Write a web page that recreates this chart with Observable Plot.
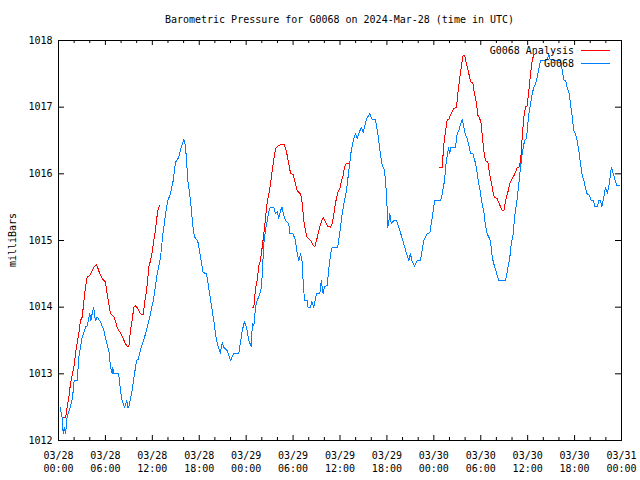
<!DOCTYPE html>
<html>
<head>
<meta charset="utf-8">
<script src="https://cdn.jsdelivr.net/npm/d3@7"></script>
<script src="https://cdn.jsdelivr.net/npm/@observablehq/plot@0.6"></script>
<style>
  html, body { margin: 0; padding: 0; background: #fff; }
  svg { display: block; }
</style>
</head>
<body>
<div id="chart"></div>
<script>
// ---- Data (hours since 2024-03-28 00:00 UTC, pressure in mbar) ----
const chartTitle = "Barometric Pressure for G0068 on 2024-Mar-28 (time in UTC)";
const yLabel = "milliBars";
const seriesNames = ["G0068 Analysis", "G0068"];
const seriesColors = ["#ff0000", "#0080ff"];

const obsHours = [0.2,0.45,0.6,0.75,0.9,1.1,1.5,1.8,2.0,2.4,2.6,3.0,3.45,3.67,4.0,4.15,4.3,4.5,4.65,4.73,4.95,5.37,5.8,6.14,6.44,6.65,6.86,6.95,7.05,7.7,7.93,8.14,8.44,8.74,8.85,9.0,9.42,9.72,9.98,10.2,10.57,10.9,11.34,11.77,12.2,12.62,13.05,13.35,13.7,13.98,14.32,14.67,14.96,15.39,15.7,16.03,16.24,16.54,16.88,17.2,17.4,17.8,18.16,18.5,18.93,19.2,19.52,19.86,20.2,20.5,20.7,20.94,21.1,21.57,22.0,22.4,23.06,23.5,23.8,24.13,24.34,24.64,24.8,24.98,25.2,25.41,25.75,25.96,26.26,26.47,26.69,26.9,27.1,27.54,27.75,28.0,28.17,28.4,28.6,28.8,29.03,29.45,29.58,30.0,30.3,30.53,30.73,30.96,31.17,31.3,31.47,31.8,31.9,32.23,32.4,32.65,33.0,33.42,33.6,33.85,34.0,34.36,34.57,34.87,35.0,35.7,36.07,36.28,36.58,36.83,37.13,37.44,37.7,37.98,38.2,38.4,38.71,38.97,39.13,39.39,39.81,40.12,40.54,40.84,41.1,41.4,41.7,41.95,42.12,42.38,42.55,42.89,43.2,43.52,43.83,44.16,44.5,44.8,45.0,45.2,45.53,45.87,46.3,46.7,47.15,47.5,47.8,48.1,48.86,49.07,49.37,49.6,49.9,50.0,50.2,50.77,50.98,51.2,51.41,51.63,51.84,52.05,52.27,52.48,52.7,53.0,53.35,53.55,53.76,53.98,54.2,54.4,54.6,54.83,55.16,55.34,55.47,55.67,55.9,56.1,56.3,57.17,57.46,57.72,57.9,58.15,58.32,58.66,58.87,59.09,59.3,59.6,59.86,60.02,60.15,60.37,60.58,60.79,61.0,61.22,61.43,61.65,62.5,62.7,62.9,64.2,64.42,64.63,64.85,65.05,65.27,65.48,65.7,65.9,66.1,66.33,66.54,66.76,66.97,67.18,67.4,67.6,67.9,68.13,68.4,68.6,68.9,69.1,69.3,69.5,69.7,69.96,70.2,70.5,70.7,70.9,71.2,71.4,71.7];
const obsValues = [1012.5,1012.35,1012.1,1012.2,1012.1,1012.35,1012.5,1012.65,1012.9,1012.9,1013.25,1013.53,1013.7,1013.72,1013.9,1013.8,1013.9,1014.0,1013.85,1013.8,1013.85,1013.78,1013.65,1013.47,1013.35,1013.1,1013.0,1013.1,1013.0,1013.0,1012.75,1012.6,1012.5,1012.6,1012.5,1012.5,1012.75,1013.0,1013.2,1013.22,1013.4,1013.5,1013.7,1013.9,1014.15,1014.5,1014.75,1015.1,1015.4,1015.6,1015.7,1015.9,1016.17,1016.25,1016.4,1016.51,1016.42,1015.9,1015.6,1015.2,1015.05,1015.0,1014.75,1014.52,1014.5,1014.3,1014.05,1013.8,1013.5,1013.38,1013.31,1013.47,1013.4,1013.35,1013.2,1013.3,1013.31,1013.65,1013.79,1013.65,1013.5,1013.41,1013.75,1013.72,1014.0,1014.1,1014.2,1014.3,1014.95,1015.15,1015.3,1015.43,1015.5,1015.5,1015.4,1015.43,1015.33,1015.45,1015.5,1015.38,1015.3,1015.25,1015.1,1015.1,1015.0,1014.8,1014.7,1014.8,1014.68,1014.35,1014.1,1014.1,1014.0,1014.0,1014.08,1014.0,1014.2,1014.2,1014.4,1014.2,1014.3,1014.33,1014.58,1014.85,1014.9,1014.9,1015.2,1015.4,1015.6,1015.75,1016.05,1016.35,1016.5,1016.6,1016.53,1016.6,1016.7,1016.62,1016.7,1016.83,1016.9,1016.81,1016.81,1016.6,1016.35,1016.13,1016.05,1015.7,1015.2,1015.4,1015.25,1015.3,1015.3,1015.2,1015.08,1014.95,1014.8,1014.7,1014.8,1014.7,1014.61,1014.7,1014.7,1015.0,1015.1,1015.12,1015.35,1015.6,1015.6,1015.7,1015.9,1016.2,1016.4,1016.3,1016.4,1016.4,1016.6,1016.65,1016.75,1016.81,1016.7,1016.58,1016.53,1016.43,1016.3,1016.3,1016.15,1016.0,1015.85,1015.7,1015.53,1015.43,1015.22,1015.1,1015.02,1014.9,1014.75,1014.65,1014.56,1014.48,1014.4,1014.4,1014.58,1014.75,1014.95,1015.1,1015.35,1015.63,1015.85,1016.1,1016.3,1016.5,1016.53,1016.75,1016.9,1017.05,1017.2,1017.3,1017.35,1017.45,1017.58,1017.7,1017.71,1017.8,1017.71,1017.7,1017.55,1017.41,1017.4,1017.3,1017.22,1017.05,1016.85,1016.65,1016.6,1016.5,1016.35,1016.15,1015.98,1015.9,1015.78,1015.7,1015.68,1015.6,1015.6,1015.51,1015.51,1015.6,1015.6,1015.51,1015.63,1015.8,1015.7,1015.9,1016.1,1016.02,1015.9,1015.83,1015.82];

// Analysis series: three runs, separated by NaN gaps
const anaHours = [0.6,0.9,1.1,1.32,1.53,1.75,1.96,2.17,2.39,2.6,2.81,3.03,3.24,3.45,3.67,4.0,4.3,4.52,4.82,5.0,5.28,5.58,5.8,6.0,6.22,6.44,6.65,7.07,7.3,7.5,7.7,8.0,8.27,8.57,8.78,9.0,9.2,9.42,9.63,9.85,10.15,10.49,10.83,11.0,11.25,11.42,11.55,11.77,11.98,12.19,12.4,12.53,12.7,12.96,
  13.5,
  24.77,24.98,25.2,25.41,25.62,25.83,26.05,26.26,26.47,26.69,26.9,27.11,27.33,27.54,27.75,27.96,28.3,28.6,28.85,29.16,29.45,29.67,30.0,30.3,30.53,30.73,30.96,31.17,31.37,31.6,31.8,32.23,32.58,32.79,33.0,33.3,33.6,33.85,34.15,34.44,34.79,35.0,35.21,35.43,35.73,35.98,36.15,36.41,36.58,36.79,37.05,
  40.0,
  48.77,49.07,49.28,49.5,49.71,49.92,50.13,50.35,50.56,50.9,51.07,51.33,51.5,51.75,51.92,52.18,52.48,52.7,53.0,53.2,53.46,53.63,53.85,54.05,54.22,54.39,54.6,54.9,55.12,55.34,55.6,55.76,56.1,56.44,56.75,56.96,57.17,57.46,57.72,58.02,58.32,58.66,58.96,59.17,59.3,59.51,59.73,59.94,60.15,60.37,60.58,60.79,61.0];
const anaValues = [1012.34,1012.34,1012.5,1012.65,1012.85,1012.98,1013.1,1013.3,1013.47,1013.6,1013.8,1013.85,1014.08,1014.3,1014.45,1014.48,1014.55,1014.6,1014.64,1014.6,1014.5,1014.43,1014.4,1014.38,1014.2,1014.05,1013.9,1013.86,1013.78,1013.7,1013.65,1013.6,1013.53,1013.45,1013.41,1013.41,1013.65,1013.8,1014.0,1014.02,1013.98,1013.9,1013.89,1014.05,1014.25,1014.43,1014.6,1014.7,1014.82,1015.0,1015.15,1015.3,1015.45,1015.53,
  NaN,
  1013.99,1014.0,1014.28,1014.4,1014.63,1014.7,1014.9,1015.1,1015.33,1015.58,1015.7,1015.85,1016.05,1016.22,1016.37,1016.41,1016.43,1016.44,1016.44,1016.33,1016.15,1016.01,1015.99,1015.85,1015.75,1015.72,1015.7,1015.55,1015.3,1015.13,1015.05,1015.0,1014.93,1014.91,1015.0,1015.15,1015.28,1015.34,1015.28,1015.21,1015.2,1015.25,1015.4,1015.57,1015.72,1015.78,1015.88,1015.98,1016.1,1016.15,1016.15,
  NaN,
  1016.09,1016.1,1016.45,1016.65,1016.81,1016.82,1016.88,1016.93,1016.98,1017.0,1017.2,1017.45,1017.6,1017.78,1017.78,1017.65,1017.5,1017.38,1017.36,1017.2,1017.05,1016.88,1016.84,1016.75,1016.55,1016.35,1016.2,1016.18,1016.0,1015.88,1015.7,1015.65,1015.63,1015.53,1015.45,1015.45,1015.6,1015.72,1015.86,1015.93,1015.99,1016.09,1016.11,1016.3,1016.55,1016.85,1017.01,1017.02,1017.25,1017.5,1017.7,1017.79,1017.8];

const xTickHours = [0,6,12,18,24,30,36,42,48,54,60,66,72];
const xTickLabels = ["03/28\n00:00","03/28\n06:00","03/28\n12:00","03/28\n18:00","03/29\n00:00","03/29\n06:00","03/29\n12:00","03/29\n18:00","03/30\n00:00","03/30\n06:00","03/30\n12:00","03/30\n18:00","03/31\n00:00"];
const xMinorHours = [2,4,8,10,14,16,20,22,26,28,32,34,38,40,44,46,50,52,56,58,62,64,68,70];
const yTicks = [1012,1013,1014,1015,1016,1017,1018];

// ---- Build tables ----
const obs = obsHours.map((h, i) => ({h, v: obsValues[i]}));
const ana = anaHours.map((h, i) => ({h, v: anaValues[i]}));

const W = 640, H = 480, mL = 58, mR = 19, mT = 40, mB = 40;
const frameH = H - mT - mB, frameW = W - mL - mR;
const FONT = "'DejaVu Sans Mono', monospace";
const majT = 5, minT = 3, yT = 6;

const chart = Plot.plot({
  width: W, height: H,
  marginLeft: mL, marginRight: mR, marginTop: mT, marginBottom: mB,
  style: {fontFamily: FONT, fontSize: "10px", background: "#fff", color: "#000"},
  x: {domain: [0, 72], axis: null},
  y: {domain: [1012, 1018], axis: null},
  marks: [
    // inward ticks, bottom & top
    Plot.tickX(xTickHours, {x: d => d, insetTop: frameH - majT, stroke: "#000"}),
    Plot.tickX(xTickHours, {x: d => d, insetBottom: frameH - majT, stroke: "#000"}),
    Plot.tickX(xMinorHours, {x: d => d, insetTop: frameH - minT, stroke: "#000"}),
    Plot.tickX(xMinorHours, {x: d => d, insetBottom: frameH - minT, stroke: "#000"}),
    // inward ticks, left & right
    Plot.tickY(yTicks, {y: d => d, insetRight: frameW - yT, stroke: "#000"}),
    Plot.tickY(yTicks, {y: d => d, insetLeft: frameW - yT, stroke: "#000"}),
    // tick labels
    Plot.text(yTicks, {y: d => d, frameAnchor: "left", dx: -6, textAnchor: "end", text: d => String(d), fill: "#000"}),
    Plot.text(xTickHours, {x: d => d, frameAnchor: "bottom", lineAnchor: "top", dy: 10, lineHeight: 1.25, text: (d, i) => xTickLabels[i], fill: "#000"}),
    // data
    Plot.line(ana, {x: "h", y: "v", stroke: seriesColors[0], strokeWidth: 1, clip: true, shapeRendering: "crispEdges"}),
    Plot.line(obs, {x: "h", y: "v", stroke: seriesColors[1], strokeWidth: 1, clip: true, shapeRendering: "crispEdges"}),
    Plot.frame({stroke: "#000", shapeRendering: "crispEdges"})
  ]
});

const svg = d3.select(chart);
// title
svg.append("text")
  .attr("x", mL + frameW / 2).attr("y", 19)
  .attr("text-anchor", "middle").attr("dominant-baseline", "central")
  .attr("font-family", FONT).attr("font-size", 10).attr("fill", "#000")
  .text(chartTitle);
// y label
svg.append("text")
  .attr("transform", `translate(12,${mT + frameH / 2}) rotate(-90)`)
  .attr("text-anchor", "middle").attr("dominant-baseline", "central")
  .attr("font-family", FONT).attr("font-size", 10).attr("fill", "#000")
  .text(yLabel);
// legend (key inside top right)
const key = svg.append("g").attr("font-family", FONT).attr("font-size", 10);
seriesNames.forEach((name, i) => {
  const cy = 50 + i * 13;
  key.append("text").attr("x", 574).attr("y", cy)
    .attr("text-anchor", "end").attr("dominant-baseline", "central")
    .attr("fill", "#000").text(name);
  key.append("line").attr("x1", 581).attr("x2", 610)
    .attr("y1", cy + 0.5).attr("y2", cy + 0.5)
    .attr("stroke", seriesColors[i]).attr("stroke-width", 1)
    .attr("shape-rendering", "crispEdges");
});

document.getElementById("chart").appendChild(chart);
</script>
</body>
</html>
